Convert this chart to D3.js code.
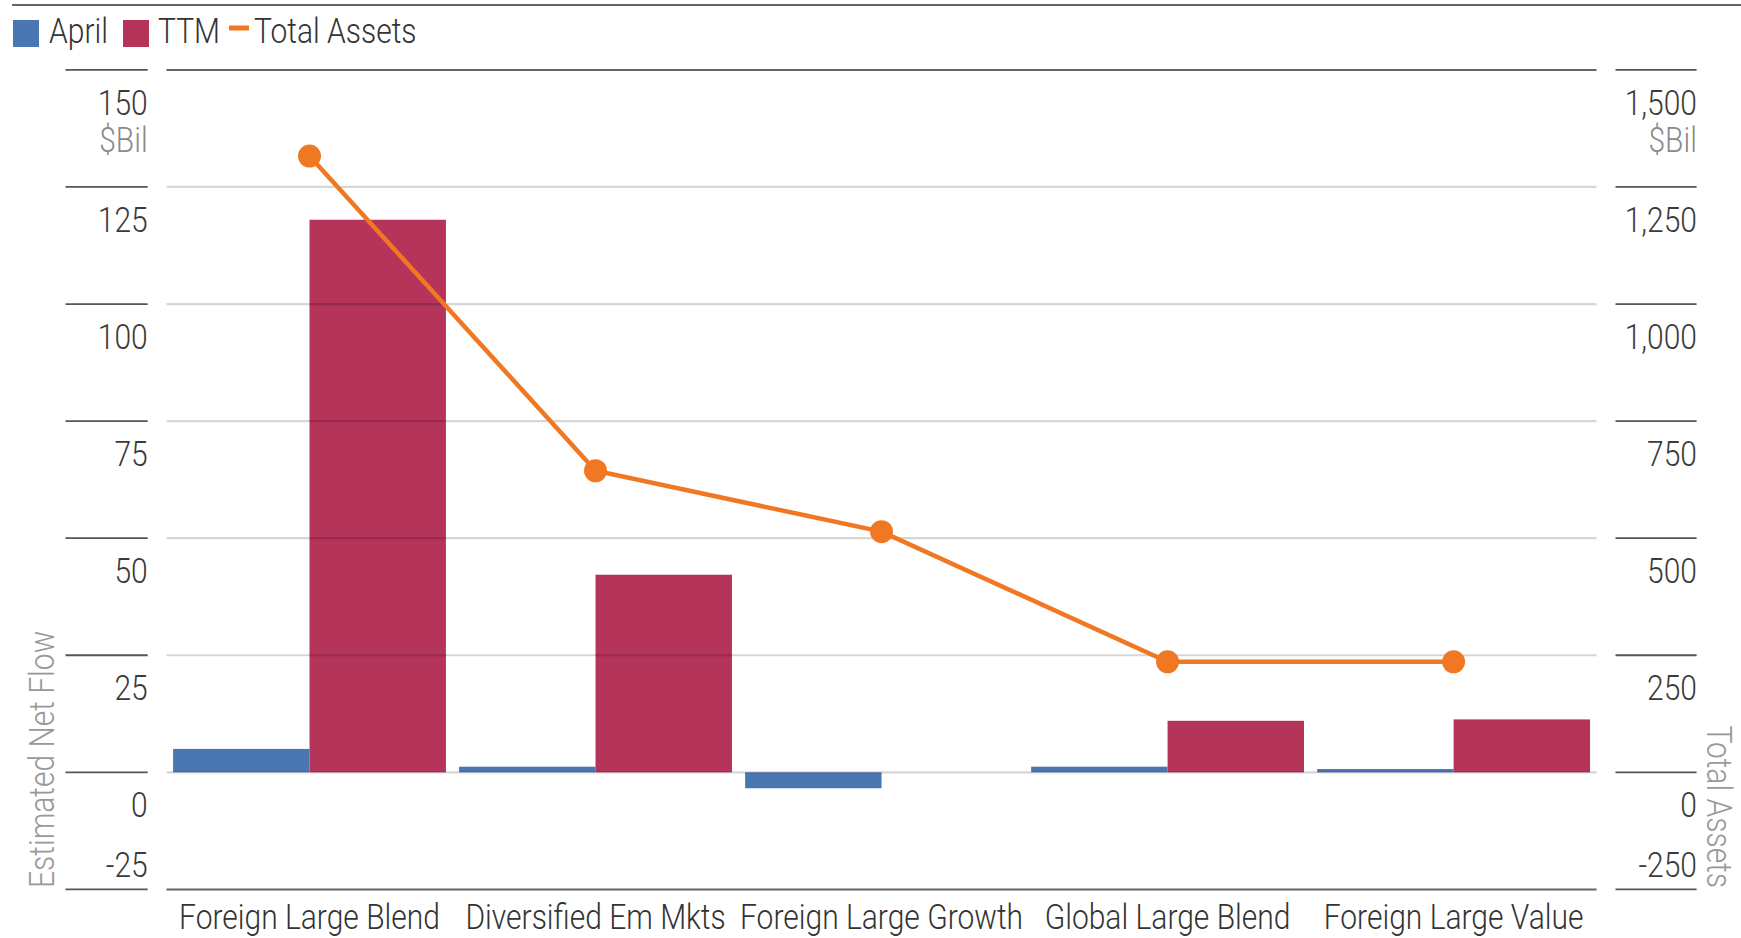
<!DOCTYPE html>
<html>
<head>
<meta charset="utf-8">
<script src="https://cdn.jsdelivr.net/npm/d3@7"></script>
<style>
  html, body { margin: 0; padding: 0; background: #fff; }
  svg text { font-family: Roboto, "Liberation Sans", sans-serif; font-weight: 300; }
</style>
</head>
<body>
<svg width="1741" height="938"></svg>
<script>
// Chart data
const categories = ["Foreign Large Blend", "Diversified Em Mkts", "Foreign Large Growth", "Global Large Blend", "Foreign Large Value"];
const april = [5.0, 1.2, -3.4, 1.2, 0.7];          // $Bil, left axis
const ttm = [118.0, 42.2, 0, 11.0, 11.3];          // $Bil, left axis
const totalAssets = [1316, 644, 514, 236, 236];    // $Bil, right axis
const leftTicks = [150, 125, 100, 75, 50, 25, 0, -25];
const rightTicks = [1500, 1250, 1000, 750, 500, 250, 0, -250];
const seriesNames = ["April", "TTM"];

const svg = d3.select("svg"),
  width = +svg.attr("width"),
  height = +svg.attr("height");

const colors = { April: "#4a77b4", TTM: "#b5345a", line: "#f07822" };

// the original uses a condensed face, so squeeze the installed font horizontally
const probe = svg.append("text").attr("font-size", 36).text("Foreign Large Blend");
const sx = 261 / probe.node().getComputedTextLength();
probe.remove();

function addText(parent, x, y, str, opts) {
  const o = Object.assign({ size: 36, fill: "#333", anchor: "start", rotate: 0 }, opts);
  return parent.append("text")
    .attr("transform", `translate(${x},${y}) rotate(${o.rotate}) scale(${sx},1)`)
    .attr("text-anchor", o.anchor)
    .attr("font-size", o.size)
    .attr("fill", o.fill)
    .text(str);
}

// layout
const plotLeft = 166.5, plotRight = 1596.6;
const plotTop = 69.9, plotBottom = 889.4;

const yL = d3.scaleLinear().domain([-25, 150]).range([plotBottom, plotTop]);
const yR = d3.scaleLinear().domain([-250, 1500]).range([plotBottom, plotTop]);

const x0 = d3.scaleBand()
  .domain(categories)
  .range([plotLeft, plotRight])
  .paddingInner(0.046)
  .paddingOuter(0.023);

const x1 = d3.scaleBand()
  .domain(seriesNames)
  .range([0, x0.bandwidth()]);

// top rule
svg.append("line")
  .attr("x1", 12).attr("x2", width)
  .attr("y1", 5).attr("y2", 5)
  .attr("stroke", "#666").attr("stroke-width", 2);

// legend
const legend = svg.append("g").attr("class", "legend");
legend.append("rect").attr("x", 13).attr("y", 20).attr("width", 26).attr("height", 27).attr("fill", colors.April);
addText(legend, 49, 43, "April");
legend.append("rect").attr("x", 123).attr("y", 20).attr("width", 26).attr("height", 27).attr("fill", colors.TTM);
addText(legend, 158, 43, "TTM");
legend.append("line").attr("x1", 229).attr("x2", 249).attr("y1", 28).attr("y2", 28)
  .attr("stroke", colors.line).attr("stroke-width", 5);
addText(legend, 254, 43, "Total Assets");

// tick rules on both sides
const edgeTicks = [150, -25];
svg.append("g")
  .selectAll("line")
  .data(leftTicks)
  .join("line")
  .attr("x1", 65.5).attr("x2", 147.7)
  .attr("y1", d => yL(d)).attr("y2", d => yL(d))
  .attr("stroke", "#555").attr("stroke-width", 1.8);

svg.append("g")
  .selectAll("line")
  .data(rightTicks)
  .join("line")
  .attr("x1", 1615.5).attr("x2", 1696.6)
  .attr("y1", d => yR(d)).attr("y2", d => yR(d))
  .attr("stroke", "#555").attr("stroke-width", 1.8);

// tick labels (hang below each rule, last one sits above the bottom rule)
const fmt = v => d3.format(",")(v).replace("\u2212", "-");
function labelY(scale, v, last) {
  return v === last ? scale(v) - 12.7 : scale(v) + 45;
}
const leftLabels = svg.append("g");
leftTicks.forEach(v => addText(leftLabels, 147.7, labelY(yL, v, -25), fmt(v), { anchor: "end", fill: "#3a3a3a" }));
const rightLabels = svg.append("g");
rightTicks.forEach(v => addText(rightLabels, 1697, labelY(yR, v, -250), fmt(v), { anchor: "end", fill: "#3a3a3a" }));

// unit labels
addText(svg, 147.7, yL(150) + 82, "$Bil", { anchor: "end", fill: "#8a8a8a" });
addText(svg, 1697, yR(1500) + 82, "$Bil", { anchor: "end", fill: "#8a8a8a" });

// axis titles
addText(svg, 54, 888, "Estimated Net Flow", { rotate: -90, fill: "#999" });
addText(svg, 1707, 888, "Total Assets", { rotate: 90, anchor: "end", fill: "#999" });

// bars
const rows = categories.map((c, i) => ({ cat: c, April: april[i], TTM: ttm[i] }));
svg.append("g")
  .selectAll("g")
  .data(rows)
  .join("g")
  .attr("transform", d => `translate(${x0(d.cat)},0)`)
  .selectAll("rect")
  .data(d => seriesNames.map(k => ({ key: k, value: d[k] })))
  .join("rect")
  .attr("x", d => x1(d.key))
  .attr("width", x1.bandwidth())
  .attr("y", d => yL(Math.max(0, d.value)))
  .attr("height", d => Math.abs(yL(d.value) - yL(0)))
  .attr("fill", d => colors[d.key]);

// gridlines over bars
svg.append("g")
  .selectAll("line")
  .data(leftTicks)
  .join("line")
  .attr("x1", plotLeft).attr("x2", plotRight)
  .attr("y1", d => yL(d)).attr("y2", d => yL(d))
  .attr("stroke", d => edgeTicks.includes(d) ? "#666" : "rgba(0,0,0,0.16)")
  .attr("stroke-width", d => edgeTicks.includes(d) ? 2 : 2.2);

// category labels
const catLabels = svg.append("g");
categories.forEach(c => addText(catLabels, x0(c) + x0.bandwidth() / 2, 929, c, { anchor: "middle" }));

// total assets line
const cx = c => x0(c) + x0.bandwidth() / 2;
const line = d3.line()
  .x((d, i) => cx(categories[i]))
  .y(d => yR(d));

svg.append("path")
  .datum(totalAssets)
  .attr("d", line)
  .attr("fill", "none")
  .attr("stroke", colors.line)
  .attr("stroke-width", 4.5);

svg.append("g")
  .selectAll("circle")
  .data(totalAssets)
  .join("circle")
  .attr("cx", (d, i) => cx(categories[i]))
  .attr("cy", d => yR(d))
  .attr("r", 11.5)
  .attr("fill", colors.line);
</script>
</body>
</html>
